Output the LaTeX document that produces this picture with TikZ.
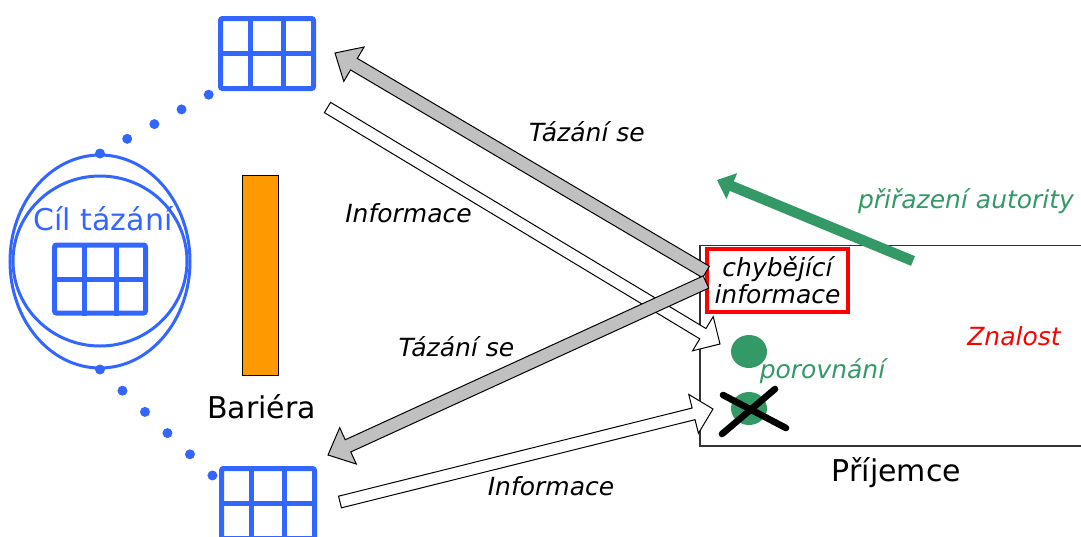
\documentclass[tikz,border=0pt]{standalone}
\usepackage{fontspec}
\setmainfont{DejaVu Sans}[ItalicFont={DejaVu Sans Oblique}]
\usetikzlibrary{calc,shapes.geometric}

\definecolor{gridblue}{HTML}{3366FF}
\definecolor{barrierorange}{HTML}{FF9900}
\definecolor{askgray}{HTML}{C0C0C0}
\definecolor{authgreen}{HTML}{339966}

% broad arrow: style, from, to, half shaft, half head, head length
\newcommand\fatarrow[6]{%
	\coordinate (fabase) at ($(#3)!#6!(#2)$);
	\draw[#1] ($(#2)!#4!90:(#3)$) -- ($(fabase)!#4!90:(#3)$) -- ($(fabase)!#5!90:(#3)$)
		-- (#3) -- ($(fabase)!#5!-90:(#3)$) -- ($(fabase)!#4!-90:(#3)$) -- ($(#2)!#4!-90:(#3)$) -- cycle;
}

\begin{document}
\begin{tikzpicture}[x=0.5pt,y=-0.5pt,
		grid/.style={draw=gridblue,line width=2.5pt,rounded corners=1pt,minimum width=46.5pt,minimum height=35pt,inner sep=0pt},
		gridline/.style={gridblue,line width=2.5pt},
		ring/.style={draw=gridblue,line width=1.5pt,ellipse,inner sep=0pt},
		dots/.style={gridblue,line width=5pt,line cap=round,dash pattern=on 0pt off 15.45pt},
		label/.style={anchor=base,font=\fontsize{15}{18}\selectfont},
		flow/.style={anchor=base,font=\fontsize{12.5}{13.5}\selectfont\itshape},
		asking/.style={draw=black,line width=0.5pt,fill=askgray},
		answer/.style={draw=black,line width=0.5pt,fill=white}]
	\clip (0,0) rectangle (1081,536);

	% target of the questioning
	\node[ring,minimum width=90pt,minimum height=106.5pt] (target) at (100,261.5) {};
	\node[ring,minimum width=87pt,minimum height=85pt] (innerring) at (100,261) {};
	\node[label,text=gridblue] (goal) at (103,230) {Cíl tázání};
	\node[grid,minimum width=45.5pt,minimum height=34pt] (goalgrid) at (100,279) {};
	\node[grid] (topgrid) at (267,53.5) {};
	\node[grid] (bottomgrid) at (268,503.5) {};
	\foreach \g in {goalgrid,topgrid,bottomgrid} {
			\draw[gridline] ($(\g.north west)!1/3!(\g.north east)$) -- ($(\g.south west)!1/3!(\g.south east)$);
			\draw[gridline] ($(\g.north west)!2/3!(\g.north east)$) -- ($(\g.south west)!2/3!(\g.south east)$);
			\draw[gridline] (\g.west) -- (\g.east);
		}
	\coordinate (topend) at (210,94);
	\coordinate (bottomend) at (213,476);
	\draw[dots] (target.north) -- (topend);
	\draw[dots] (target.south) -- (bottomend);

	% barrier
	\node[draw=black,line width=0.5pt,fill=barrierorange,minimum width=18pt,minimum height=100pt,inner sep=0pt] (barrier) at (260,275) {};
	\node[label] (barrierlabel) at (261.5,418) {Bariéra};

	% receiver
	\node[draw=black!80,line width=0.6pt,minimum width=250pt,minimum height=100.25pt,inner sep=0pt] (receiver) at (950,345.75) {};
	\node[label] (receiverlabel) at (896.5,481) {Příjemce};
	\node[draw=red,line width=2.4pt,fill=white,minimum width=70.5pt,minimum height=31.5pt,inner sep=0pt,align=center,
		font=\fontsize{12.5}{13.5}\selectfont\itshape] (missing) at (777.5,280.5) {chybějící\\informace};
	\node[flow,text=red] (knowledge) at (1014,345) {Znalost};
	\node[ellipse,fill=authgreen,minimum width=18pt,minimum height=16.5pt,inner sep=0pt] (match1) at (749,351.5) {};
	\node[ellipse,fill=authgreen,minimum width=18pt,minimum height=16.5pt,inner sep=0pt] (match2) at (749,408.5) {};
	\node[flow,text=authgreen] (compare) at (822.5,378) {porovnání};
	\draw[line width=3.3pt,line cap=round] (722,434) -- (775,389);
	\draw[line width=3.3pt,line cap=round] (723,395) -- (786,428);

	% authority
	\coordinate (authtail) at (913,261);
	\coordinate (authtip) at (717,180);
	\fatarrow{draw=none,fill=authgreen}{authtail}{authtip}{2.6pt}{7pt}{8pt}
	\node[flow,text=authgreen] (authority) at (966,208) {přiřazení autority};

	% questions and answers
	\coordinate (info1tail) at (327.5,107.5);
	\coordinate (info1tip) at (720,344);
	\coordinate (info2tail) at (340,502);
	\coordinate (info2tip) at (713,409);
	\coordinate (ask1tail) at (706,272);
	\coordinate (ask1tip) at (335,53);
	\coordinate (ask2tail) at (706,282);
	\coordinate (ask2tip) at (328,455);
	\fatarrow{answer}{info1tail}{info1tip}{3pt}{10pt}{10pt}
	\fatarrow{answer}{info2tail}{info2tip}{3pt}{10pt}{10pt}
	\fatarrow{asking}{ask1tail}{ask1tip}{3.35pt}{10pt}{11pt}
	\fatarrow{asking}{ask2tail}{ask2tip}{3.35pt}{10pt}{11pt}
	\node[flow] (ask1label) at (587,141) {Tázání se};
	\node[flow] (info1label) at (408.5,222) {Informace};
	\node[flow] (ask2label) at (456.5,356) {Tázání se};
	\node[flow] (info2label) at (551,495) {Informace};
\end{tikzpicture}
\end{document}
